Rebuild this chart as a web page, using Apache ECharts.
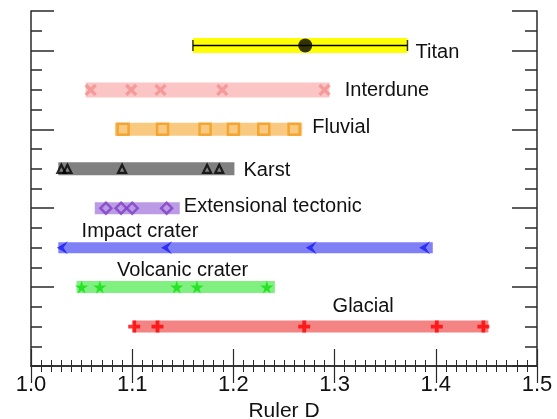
<!DOCTYPE html>
<html>
<head>
<meta charset="utf-8">
<script src="https://cdn.jsdelivr.net/npm/echarts@6/dist/echarts.min.js"></script>
<style>
html,body{margin:0;padding:0;background:#fff;}
#c{width:557px;height:419px;}
</style>
</head>
<body>
<div id="c"></div>
<script>
// ---- DATA ----
var xTicks = [1.0, 1.1, 1.2, 1.3, 1.4, 1.5];
var categories = ['Titan', 'Interdune', 'Fluvial', 'Karst', 'Extensional tectonic', 'Impact crater', 'Volcanic crater', 'Glacial'];
var rowY = [16.25, 14, 12, 10, 8, 6, 4, 2];
var rangeMin = [1.160, 1.054, 1.083, 1.027, 1.063, 1.027, 1.045, 1.101];
var rangeMax = [1.372, 1.295, 1.268, 1.201, 1.147, 1.397, 1.241, 1.452];
var titanMean = [1.271];
var interdunePts = [1.059, 1.099, 1.128, 1.189, 1.290];
var fluvialPts = [1.091, 1.130, 1.172, 1.200, 1.230, 1.260];
var karstPts = [1.030, 1.036, 1.090, 1.174, 1.186];
var extensionalPts = [1.074, 1.089, 1.100, 1.134];
var impactPts = [1.031, 1.134, 1.277, 1.389];
var volcanicPts = [1.050, 1.068, 1.144, 1.164, 1.233];
var glacialPts = [1.102, 1.125, 1.270, 1.401, 1.447];

// ---- LAYOUT / STYLE ----
var labelPos = {
  'Titan': [1.380, 15.92],
  'Interdune': [1.310, 13.95],
  'Fluvial': [1.278, 12.1],
  'Karst': [1.210, 9.9],
  'Extensional tectonic': [1.151, 8.1],
  'Impact crater': [1.050, 6.8],
  'Volcanic crater': [1.085, 4.85],
  'Glacial': [1.298, 3.0]
};
var barColors = ['#ffff00', '#fbc5c5', '#f9c97f', '#808080', '#bb9be6', '#8080f6', '#80f080', '#f48484'];
var barWidths = [15, 15, 13, 13, 12, 11, 12, 12];
var FONT = '"Liberation Sans", Arial, Helvetica, sans-serif';
var AX = '#2a2a2a';

var plusPath = 'path://M3.4,0L6.6,0L6.6,3.4L10,3.4L10,6.6L6.6,6.6L6.6,10L3.4,10L3.4,6.6L0,6.6L0,3.4L3.4,3.4Z';
var xPath = 'path://M3.8,0L6.2,0L6.2,3.8L10,3.8L10,6.2L6.2,6.2L6.2,10L3.8,10L3.8,6.2L0,6.2L0,3.8L3.8,3.8Z';
var chevronPath = 'path://M10,0L0,5L10,10L6,5Z';
var starPath = 'path://M50,0L61,35L98,35L68,57L79,91L50,70L21,91L32,57L2,35L39,35Z';

var series = [];
// bars
categories.forEach(function (c, i) {
  series.push({
    type: 'line', silent: true, symbol: 'none', animation: false,
    data: [[rangeMin[i], rowY[i]], [rangeMax[i], rowY[i]]],
    lineStyle: { color: barColors[i], width: barWidths[i], cap: 'butt' },
    z: 1
  });
});
// Titan error bar
series.push({
  type: 'line', symbol: 'none', animation: false,
  data: [[rangeMin[0], rowY[0]], [rangeMax[0], rowY[0]]],
  lineStyle: { color: '#000', width: 1.5 }, z: 3
});
series.push({
  type: 'scatter', symbol: 'rect', symbolSize: [1.5, 11], animation: false,
  data: [[rangeMin[0], rowY[0]], [rangeMax[0], rowY[0]]],
  itemStyle: { color: '#000' }, z: 3
});
series.push({
  type: 'scatter', symbol: 'circle', symbolSize: 14, animation: false,
  data: titanMean.map(function (v) { return [v, rowY[0]]; }),
  itemStyle: { color: '#000' }, z: 4
});
function pts(arr, y) { return arr.map(function (v) { return [v, y]; }); }
series.push({
  type: 'scatter', symbol: xPath, symbolSize: 14, symbolRotate: 45, animation: false,
  data: pts(interdunePts, rowY[1]), itemStyle: { color: '#f38e8e' }, z: 4
});
series.push({
  type: 'scatter', symbol: 'rect', symbolSize: 11, animation: false,
  data: pts(fluvialPts, rowY[2]),
  itemStyle: { color: 'transparent', borderColor: '#f39c1e', borderWidth: 2.5 }, z: 4
});
series.push({
  type: 'scatter', symbol: 'triangle', symbolSize: 8, animation: false,
  data: pts(karstPts, rowY[3]),
  itemStyle: { color: 'transparent', borderColor: '#000', borderWidth: 2.2 }, z: 4
});
series.push({
  type: 'scatter', symbol: 'diamond', symbolSize: 11, animation: false,
  data: pts(extensionalPts, rowY[4]),
  itemStyle: { color: 'transparent', borderColor: '#7f3fc4', borderWidth: 2.5 }, z: 4
});
series.push({
  type: 'scatter', symbol: chevronPath, symbolSize: [11, 13], animation: false,
  data: pts(impactPts, rowY[5]), itemStyle: { color: '#1a1af0' }, z: 4
});
series.push({
  type: 'scatter', symbol: starPath, symbolSize: 13, animation: false,
  data: pts(volcanicPts, rowY[6]), itemStyle: { color: '#10e010' }, z: 4
});
series.push({
  type: 'scatter', symbol: plusPath, symbolSize: 12, animation: false,
  data: pts(glacialPts, rowY[7]), itemStyle: { color: '#ff0000' }, z: 4
});
// labels
series.push({
  type: 'scatter', symbolSize: 0, animation: false, silent: true,
  data: categories.map(function (c) { return { name: c, value: labelPos[c] }; }),
  itemStyle: { opacity: 1 },
  label: {
    show: true, position: [0, 0], align: 'left', verticalAlign: 'middle', opacity: 1,
    formatter: '{b}', fontFamily: FONT, fontSize: 20, color: '#111'
  }, z: 5
});

var xBase = {
  type: 'value', min: 1.0, max: 1.5, interval: 0.1,
  axisLine: { show: true, lineStyle: { color: AX, width: 1.5 } },
  axisTick: { show: true, inside: true, length: 17, lineStyle: { color: AX, width: 1.2 } },
  minorTick: { show: true, splitNumber: 10, length: 6, lineStyle: { color: AX, width: 1 } },
  splitLine: { show: false }
};
var xBottom = Object.assign({}, xBase, {
  position: 'bottom',
  axisLabel: {
    show: true, margin: 8, fontFamily: FONT, fontSize: 22, color: '#111',
    formatter: function (v) { return v.toFixed(1); }
  },
  name: 'Ruler D', nameLocation: 'middle', nameGap: 31,
  nameTextStyle: { fontFamily: FONT, fontSize: 21, color: '#111' }
});
var xTop = Object.assign({}, xBase, { position: 'top', axisLabel: { show: false } });

function yAx(pos, interval, len, line) {
  return {
    type: 'value', min: 0, max: 18, interval: interval, position: pos, offset: 0,
    axisLine: { show: line, lineStyle: { color: AX, width: 1.5 } },
    axisTick: { show: true, inside: true, length: len, lineStyle: { color: AX, width: 1.5 } },
    axisLabel: { show: false }, splitLine: { show: false }
  };
}

var chart = echarts.init(document.getElementById('c'), null, { renderer: 'canvas' });
chart.setOption({
  backgroundColor: '#fff',
  animation: false,
  grid: { left: 31, right: 20, top: 11, bottom: 53, containLabel: false, outerBoundsMode: 'none' },
  xAxis: [xBottom, xTop],
  yAxis: [yAx('left', 1, 11, true), yAx('left', 4, 23, false), yAx('right', 1, 12, true), yAx('right', 4, 25, false)],
  series: series
});
</script>
</body>
</html>
